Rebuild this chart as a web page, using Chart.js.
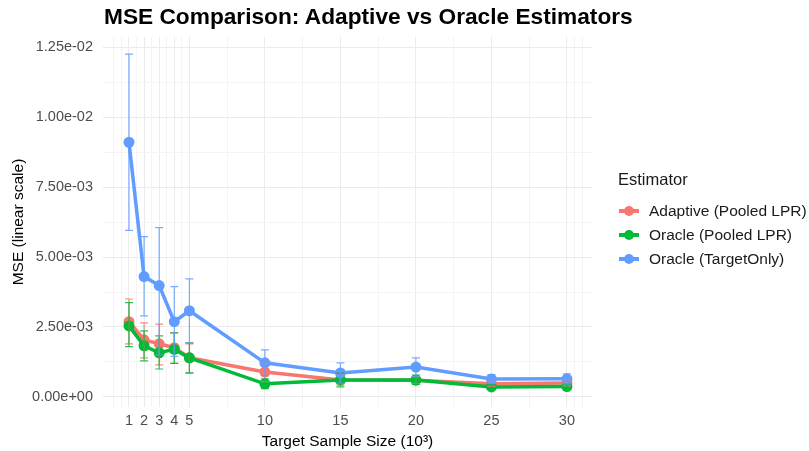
<!DOCTYPE html>
<html>
<head>
<meta charset="utf-8">
<script src="https://cdn.jsdelivr.net/npm/chart.js@4.4.0/dist/chart.umd.min.js"></script>
<style>
body{margin:0;background:#fff;font-family:"Liberation Sans",Arial,sans-serif}
#wrap{position:relative;width:809px;height:451px}
#titre{position:absolute;left:104px;top:3px;font-size:22.7px;font-weight:bold;color:#000;white-space:nowrap}
#legende{position:absolute;left:618px;top:170px;font-size:15.5px;color:#1a1a1a}
#legende .tit{font-size:16.5px;margin-bottom:10px}
#legende .lig{position:relative;height:24px;line-height:24px;padding-left:31px;white-space:nowrap}
#legende .trait{position:absolute;left:1px;top:10px;width:20px;height:4px}
#legende .rond{position:absolute;left:6px;top:7px;width:10px;height:10px;border-radius:50%}
</style>
</head>
<body>
<div id="wrap">
<canvas id="graphe" width="809" height="451"></canvas>
<div id="titre">MSE Comparison: Adaptive vs Oracle Estimators</div>
<div id="legende"></div>
</div>
<script>
var sampleSize = [1,2,3,4,5,10,15,20,25,30]
var xMajor = [1,2,3,4,5,10,15,20,25,30]
var xMinor = [0,0.5,1.5,2.5,3.5,4.5,7.5,12.5,17.5,22.5,27.5,30.5,31]
var yMajor = [0,0.0025,0.005,0.0075,0.01,0.0125]
var yMinor = [0.00125,0.00375,0.00625,0.00875,0.01125]

var adaptiveMse  = [0.00269,0.00204,0.00190,0.00176,0.00140,0.00089,0.00061,0.00060,0.00047,0.00050]
var adaptiveLow  = [0.00190,0.00140,0.00115,0.00120,0.00085,0.00055,0.00042,0.00048,0.00038,0.00040]
var adaptiveHigh = [0.00350,0.00265,0.00260,0.00230,0.00190,0.00120,0.00078,0.00072,0.00056,0.00060]

var oracleMse  = [0.00254,0.00183,0.00158,0.00170,0.00140,0.00047,0.00061,0.00061,0.00036,0.00037]
var oracleLow  = [0.00180,0.00129,0.00100,0.00120,0.00086,0.00030,0.00036,0.00045,0.00028,0.00029]
var oracleHigh = [0.00337,0.00236,0.00218,0.00229,0.00193,0.00065,0.00085,0.00078,0.00045,0.00046]

var targetMse  = [0.00910,0.00430,0.00398,0.00269,0.00308,0.00122,0.00086,0.00107,0.00064,0.00065]
var targetLow  = [0.00595,0.00290,0.00150,0.00145,0.00193,0.00076,0.00050,0.00074,0.00048,0.00047]
var targetHigh = [0.01225,0.00573,0.00605,0.00394,0.00422,0.00168,0.00122,0.00140,0.00080,0.00083]

var noms = ["Adaptive (Pooled LPR)","Oracle (Pooled LPR)","Oracle (TargetOnly)"]
var couleurs = ["#F8766D","#00BA38","#619CFF"]
var moyennes = [adaptiveMse,oracleMse,targetMse]
var basses = [adaptiveLow,oracleLow,targetLow]
var hautes = [adaptiveHigh,oracleHigh,targetHigh]

function expo(v){
	var s = v.toExponential(2)
	var p = s.split("e")
	var e = parseInt(p[1])
	var signe = e<0 ? "-" : "+"
	var n = Math.abs(e)
	return p[0]+"e"+signe+(n<10?"0"+n:n)
}

var datasets = []
for(var k=0;k<3;k++){
	var pts = []
	for(var i=0;i<sampleSize.length;i++){
		pts.push({x:sampleSize[i],y:moyennes[k][i]})
	}
	datasets.push({label:noms[k],data:pts,borderColor:couleurs[k],backgroundColor:couleurs[k],
		borderWidth:3.5,pointRadius:5.5,pointHoverRadius:5.5,pointBorderWidth:0,order:3-k})
}

// barres d'erreur
var barres = {
	id:"barres",
	afterDatasetsDraw:function(chart){
		var ctx = chart.ctx
		var sx = chart.scales.x, sy = chart.scales.y
		ctx.save()
		for(var k=0;k<3;k++){
			ctx.strokeStyle = couleurs[k]
			ctx.globalAlpha = 0.85
			ctx.lineWidth = 1.2
			for(var i=0;i<sampleSize.length;i++){
				var x = sx.getPixelForValue(sampleSize[i])
				var y1 = sy.getPixelForValue(basses[k][i])
				var y2 = sy.getPixelForValue(hautes[k][i])
				ctx.beginPath()
				ctx.moveTo(x,y1);ctx.lineTo(x,y2)
				ctx.moveTo(x-4,y1);ctx.lineTo(x+4,y1)
				ctx.moveTo(x-4,y2);ctx.lineTo(x+4,y2)
				ctx.stroke()
			}
		}
		ctx.restore()
	}
}

new Chart("graphe",{
	type:"line",
	data:{datasets:datasets},
	plugins:[barres],
	options:{
		responsive:false,
		animation:false,
		layout:{padding:{left:0,right:217,top:37,bottom:0}},
		plugins:{legend:{display:false},tooltip:{enabled:false},title:{display:false}},
		scales:{
			x:{
				type:"linear",min:-0.72,max:31.66,
				afterBuildTicks:function(s){
					s.ticks = xMajor.concat(xMinor).map(function(v){return {value:v}})
				},
				afterFit:function(s){s.height=44},
				ticks:{autoSkip:false,maxRotation:0,padding:5,color:"#4D4D4D",
					font:{family:"Liberation Sans",size:14.5},
					callback:function(v){return xMajor.indexOf(v)>=0 ? String(v) : ""}},
				grid:{drawTicks:false,
					color:function(c){return xMajor.indexOf(c.tick.value)>=0 ? "#EBEBEB" : "#F4F4F4"},
					lineWidth:1},
				border:{display:false},
				title:{display:true,text:"Target Sample Size (10\u00B3)",color:"#000",
					font:{family:"Liberation Sans",size:15.5},padding:{top:0,bottom:0}}
			},
			y:{
				min:-0.000358,max:0.01286,
				afterBuildTicks:function(s){
					s.ticks = yMajor.concat(yMinor).map(function(v){return {value:v}})
				},
				afterFit:function(s){s.width=103},
				ticks:{autoSkip:false,padding:10,color:"#4D4D4D",
					font:{family:"Liberation Sans",size:14.5},
					callback:function(v){
						for(var i=0;i<yMajor.length;i++){if(Math.abs(yMajor[i]-v)<1e-9)return expo(yMajor[i])}
						return ""
					}},
				grid:{drawTicks:false,
					color:function(c){
						for(var i=0;i<yMajor.length;i++){if(Math.abs(yMajor[i]-c.tick.value)<1e-9)return "#EBEBEB"}
						return "#F4F4F4"
					},
					lineWidth:1},
				border:{display:false},
				title:{display:true,text:"MSE (linear scale)",color:"#000",
					font:{family:"Liberation Sans",size:15.5},padding:{top:9,bottom:0}}
			}
		}
	}
})

// légende
var leg = document.getElementById("legende")
var t = document.createElement("div")
t.className = "tit"
t.innerHTML = "Estimator"
leg.appendChild(t)
for(var k=0;k<3;k++){
	var lig = document.createElement("div")
	lig.className = "lig"
	var tr = document.createElement("span")
	tr.className = "trait"
	tr.style.background = couleurs[k]
	var ro = document.createElement("span")
	ro.className = "rond"
	ro.style.background = couleurs[k]
	lig.appendChild(tr)
	lig.appendChild(ro)
	lig.appendChild(document.createTextNode(noms[k]))
	leg.appendChild(lig)
}
</script>
</body>
</html>
